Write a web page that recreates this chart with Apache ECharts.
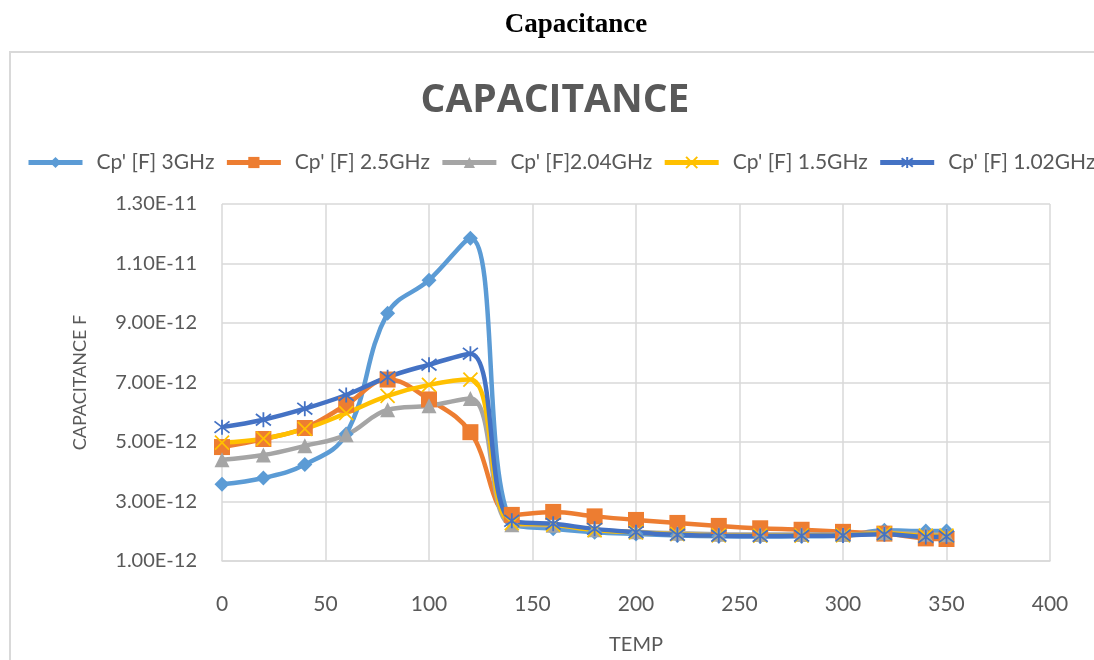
<!DOCTYPE html>
<html>
<head>
<meta charset="utf-8">
<title>Capacitance</title>
<script src="https://cdn.jsdelivr.net/npm/echarts@6/dist/echarts.min.js"></script>
<style>
  html, body { margin: 0; padding: 0; background: #fff; overflow: hidden; }
  #chart { width: 1094px; height: 660px; }
</style>
</head>
<body>
<div id="chart"></div>
<script>
// temperature points
const temps = [0, 20, 40, 60, 80, 100, 120, 140, 160, 180, 200, 220, 240, 260, 280, 300, 320, 340, 350];

// capacitance values, in pF (x 1e-12 F)
const cp3GHz = [3.58, 3.79, 4.24, 5.27, 9.33, 10.44, 11.85, 2.30, 2.08, 1.97, 1.91, 1.86, 1.83, 1.82, 1.83, 1.85, 2.03, 2.01, 2.01];
const cp25GHz = [4.83, 5.10, 5.47, 6.25, 7.10, 6.43, 5.33, 2.55, 2.65, 2.50, 2.38, 2.28, 2.18, 2.10, 2.05, 1.98, 1.92, 1.76, 1.74];
const cp204GHz = [4.40, 4.56, 4.87, 5.24, 6.08, 6.22, 6.46, 2.22, 2.20, 2.05, 1.98, 1.93, 1.90, 1.89, 1.89, 1.89, 1.95, 1.90, 1.88];
const cp15GHz = [4.98, 5.11, 5.44, 5.97, 6.55, 6.92, 7.10, 2.27, 2.22, 2.04, 1.96, 1.90, 1.86, 1.85, 1.85, 1.86, 1.93, 1.85, 1.85];
const cp102GHz = [5.50, 5.75, 6.12, 6.58, 7.18, 7.60, 7.97, 2.35, 2.25, 2.08, 1.97, 1.88, 1.85, 1.84, 1.85, 1.86, 1.90, 1.81, 1.82];

const seriesNames = ["Cp' [F] 3GHz", "Cp' [F] 2.5GHz", "Cp' [F]2.04GHz", "Cp' [F] 1.5GHz", "Cp' [F] 1.02GHz"];
const seriesData = [cp3GHz, cp25GHz, cp204GHz, cp15GHz, cp102GHz];
const colors = ["#5B9BD5", "#ED7D31", "#A5A5A5", "#FFC000", "#4472C4"];

const markers = [
  { symbol: "diamond", size: 15, stroke: false },
  { symbol: "rect", size: 16, stroke: false },
  { symbol: "triangle", size: 15, stroke: false },
  { symbol: "path://M0,0L10,10M10,0L0,10", size: 14, stroke: true },
  { symbol: "path://M0,0L10,10M10,0L0,10M5,-1.5L5,11.5", size: 15, stroke: true },
];

const fmtCap = (v) => (v >= 10 ? (v / 10).toFixed(2) + "E-11" : v.toFixed(2) + "E-12");

const chart = echarts.init(document.getElementById("chart"));

const series = seriesNames.map((name, i) => ({
  name,
  type: "line",
  smooth: 0.4,
  data: temps.map((t, j) => [t, seriesData[i][j]]),
  symbol: markers[i].symbol,
  symbolSize: markers[i].size,
  showSymbol: true,
  lineStyle: { color: colors[i], width: 4.5 },
  itemStyle: markers[i].stroke
    ? { color: colors[i], borderColor: colors[i], borderWidth: 1.8 }
    : { color: colors[i], borderWidth: 0 },
  emphasis: { disabled: true },
  animation: false,
}));

const gridLine = { show: true, lineStyle: { color: "#d9d9d9", width: 1.5 } };

chart.setOption({
  backgroundColor: "#fff",
  textStyle: { fontFamily: "Lato" },
  title: [
    {
      text: "Capacitance",
      left: 571,
      textAlign: "center",
      top: 7,
      textStyle: { fontFamily: "Liberation Serif", fontWeight: "bold", fontSize: 27, color: "#000" },
    },
    {
      text: "CAPACITANCE",
      left: 550,
      textAlign: "center",
      top: 76,
      textStyle: { fontFamily: "Open Sans", fontWeight: "bold", fontSize: 39, color: "#595959" },
    },
  ],
  graphic: [
    {
      type: "rect",
      shape: { x: 10, y: 52, width: 1100, height: 640 },
      style: { fill: "none", stroke: "#d9d9d9", lineWidth: 2 },
      silent: true,
    },
  ],
  legend: {
    data: seriesNames,
    left: 21,
    top: 147,
    width: 1100,
    itemWidth: 54,
    itemHeight: 14,
    itemGap: 10,
    lineStyle: { width: 5 },
    textStyle: { fontSize: 21, color: "#595959", padding: [0, 0, 0, 9] },
  },
  grid: { left: 222, right: 44, top: 204, bottom: 92, containLabel: false },
  xAxis: {
    type: "value",
    min: 0,
    max: 400,
    interval: 50,
    name: "TEMP",
    nameLocation: "middle",
    nameGap: 74,
    nameTextStyle: { fontSize: 20, color: "#595959" },
    axisLine: { show: true, lineStyle: { color: "#d9d9d9", width: 1.5 } },
    axisTick: { show: false },
    axisLabel: { fontSize: 21, color: "#595959", margin: 33 },
    splitLine: gridLine,
  },
  yAxis: {
    type: "value",
    min: 1,
    max: 13,
    interval: 2,
    name: "CAPACITANCE F",
    nameLocation: "middle",
    nameGap: 133,
    nameTextStyle: { fontSize: 18, color: "#595959" },
    axisLine: { show: false },
    axisTick: { show: false },
    axisLabel: { fontSize: 20, color: "#595959", margin: 25, formatter: fmtCap },
    splitLine: gridLine,
  },
  series,
});
</script>
</body>
</html>
